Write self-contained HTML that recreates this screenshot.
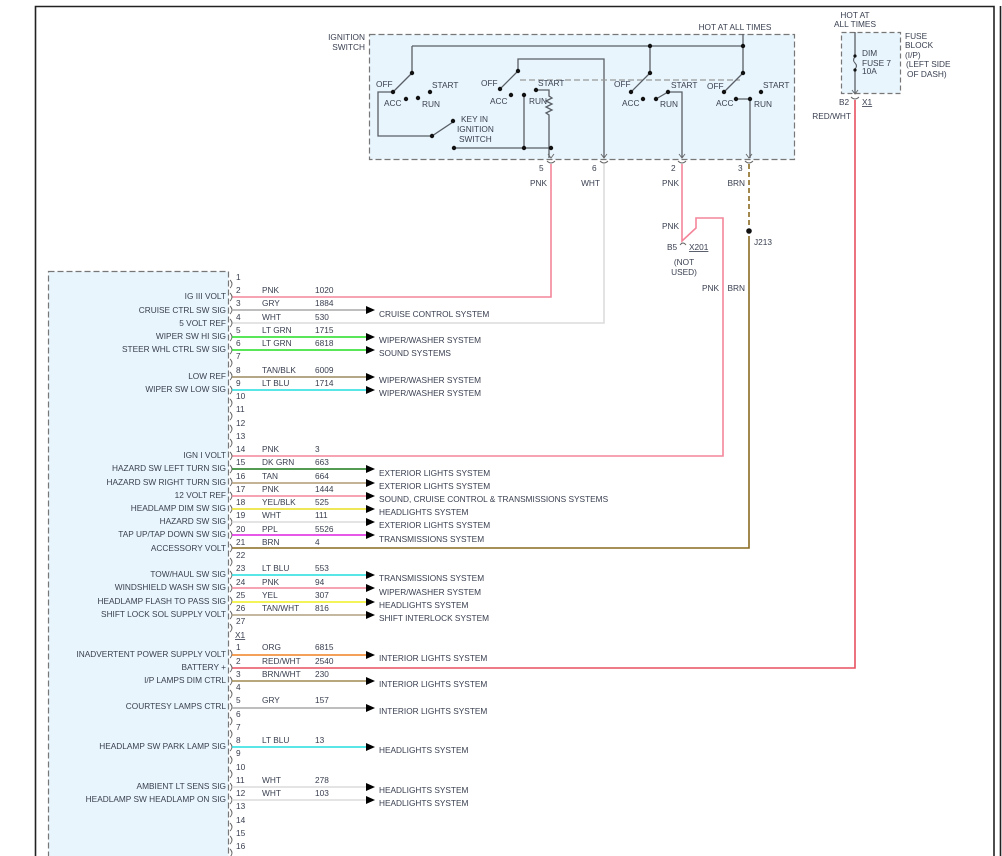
<!DOCTYPE html>
<html><head><meta charset="utf-8"><style>
html,body{margin:0;padding:0;background:#fff;}
svg{display:block;}
text{font-family:"Liberation Sans",sans-serif;font-size:8.3px;fill:#3a4050;}
.r{text-anchor:end;}
.m{text-anchor:middle;}
.sw{stroke:#5a5f66;stroke-width:1.3;fill:none;}
.dot{fill:#111;}
.br{stroke:#666;stroke-width:0.9;fill:none;}
</style></head><body>
<svg width="1002" height="856" viewBox="0 0 1002 856" xmlns="http://www.w3.org/2000/svg">
<!-- frame -->
<path d="M35.5,856 V6.5 H994 V856" stroke="#222" stroke-width="1.6" fill="none"/>
<line x1="1000.5" y1="6" x2="1000.5" y2="856" stroke="#222" stroke-width="1.6"/>

<!-- ignition switch box -->
<rect x="369.5" y="34.5" width="425" height="125" fill="#e8f5fd" stroke="#777" stroke-width="1.2" stroke-dasharray="6,3"/>
<text class="r" x="365" y="40">IGNITION</text>
<text class="r" x="365" y="50">SWITCH</text>
<text class="m" x="735" y="30">HOT AT ALL TIMES</text>

<!-- internal wiring -->
<path class="sw" d="M743,34 V73 M412,46 H743 M650,46 V73 M412,46 V73"/>
<path class="sw" d="M412,73 L393,92 M393,92 H378 V136 H432 L453,122"/>
<path class="sw" d="M454,148 H551 M524,95 V148"/>
<path class="sw" d="M518,71 V59 H604 V158 M518,71 L500,89"/>
<path class="sw" d="M536,90 H549 V96 l3,2 l-6,3 l6,3 l-6,3 l6,3 l-6,3 l3,2 V158"/>
<path d="M520,80 H740" stroke="#999" stroke-width="1.2" stroke-dasharray="6,3" fill="none"/>
<path class="sw" d="M650,73 L631,92 M656,99 L668,92 H682 V158"/>
<path class="sw" d="M743,73 L724,92 M736,99 H750 V158"/>
<g class="dot">
<circle cx="743" cy="46" r="2.2"/><circle cx="650" cy="46" r="2.2"/>
<circle cx="412" cy="73" r="2.2"/><circle cx="393" cy="92" r="2.2"/>
<circle cx="406" cy="99" r="2.2"/><circle cx="418" cy="98" r="2.2"/><circle cx="430" cy="92" r="2.2"/>
<circle cx="432" cy="136" r="2.2"/><circle cx="453" cy="121" r="2.2"/>
<circle cx="454" cy="148" r="2.2"/><circle cx="524" cy="148" r="2.2"/><circle cx="551" cy="148" r="2.2"/>
<circle cx="518" cy="71" r="2.2"/><circle cx="500" cy="89" r="2.2"/><circle cx="511" cy="95" r="2.2"/>
<circle cx="524" cy="95" r="2.2"/><circle cx="536" cy="90" r="2.2"/>
<circle cx="650" cy="73" r="2.2"/><circle cx="631" cy="92" r="2.2"/><circle cx="643" cy="99" r="2.2"/>
<circle cx="656" cy="99" r="2.2"/><circle cx="668" cy="92" r="2.2"/>
<circle cx="743" cy="73" r="2.2"/><circle cx="724" cy="92" r="2.2"/><circle cx="736" cy="99" r="2.2"/>
<circle cx="750" cy="99" r="2.2"/><circle cx="761" cy="92" r="2.2"/>
</g>
<text x="376" y="87">OFF</text><text x="432" y="88">START</text><text x="384" y="106">ACC</text><text x="422" y="107">RUN</text>
<text x="461" y="122">KEY IN</text><text x="457" y="132">IGNITION</text><text x="459" y="142">SWITCH</text>
<text x="481" y="86">OFF</text><text x="538" y="86">START</text><text x="490" y="104">ACC</text><text x="529" y="104">RUN</text>
<text x="614" y="87">OFF</text><text x="671" y="88">START</text><text x="622" y="106">ACC</text><text x="660" y="107">RUN</text>
<text x="707" y="89">OFF</text><text x="763" y="88">START</text><text x="716" y="106">ACC</text><text x="754" y="107">RUN</text>

<!-- pin arrows/cups -->
<g class="br">
<path d="M548,154 l3,4 l3,-4 M547,161 q4,4 8,0"/>
<path d="M601,154 l3,4 l3,-4 M600,161 q4,4 8,0"/>
<path d="M679,154 l3,4 l3,-4 M678,161 q4,4 8,0"/>
<path d="M746,154 l3,4 l3,-4 M745,161 q4,4 8,0"/>
</g>
<text x="539" y="171">5</text><text x="592" y="171">6</text><text x="671" y="171">2</text><text x="738" y="171">3</text>
<text class="r" x="547" y="186">PNK</text><text class="r" x="600" y="186">WHT</text>
<text class="r" x="679" y="186">PNK</text><text class="r" x="745" y="186">BRN</text>

<!-- vertical feed wires -->
<path d="M551,164 V297 H232" stroke="#f4859a" stroke-width="1.6" fill="none"/>
<path d="M604,164 V323 H232" stroke="#dcdcdc" stroke-width="1.6" fill="none"/>
<path d="M682,164 V241 L696,228 V218 H723 V456 H232" stroke="#f4859a" stroke-width="1.6" fill="none"/>
<path d="M749,164 V228" stroke="#8a6a20" stroke-width="1.6" stroke-dasharray="5,3" fill="none"/>
<path d="M749,236 V548 H232" stroke="#8a6a20" stroke-width="1.6" fill="none"/>
<circle cx="749" cy="231" r="2.8" fill="#111"/>
<text x="754" y="245">J213</text>
<text class="r" x="679" y="229">PNK</text>
<text x="667" y="250">B5</text>
<path d="M680,245 q3,-4 6,0" class="br"/>
<text x="689" y="250" text-decoration="underline">X201</text>
<text class="m" x="684" y="265">(NOT</text><text class="m" x="684" y="275">USED)</text>
<text class="r" x="719" y="291">PNK</text><text class="r" x="745" y="291">BRN</text>

<!-- fuse block -->
<rect x="841.5" y="32.5" width="59" height="61" fill="#e8f5fd" stroke="#777" stroke-width="1.2" stroke-dasharray="5,3"/>
<text class="m" x="855" y="18">HOT AT</text><text class="m" x="855" y="27">ALL TIMES</text>
<path class="sw" d="M855,32 V55 M855,70 V94"/>
<path d="M855,57 q-3,3 0,6 q3,3 0,6" stroke="#5a5f66" stroke-width="1.1" fill="none"/>
<circle cx="855" cy="56" r="1.6" class="dot"/><circle cx="855" cy="70" r="1.6" class="dot"/>
<path class="br" d="M852,90 l3,4 l3,-4 M851,97 q4,4 8,0"/>
<text x="862" y="56">DIM</text><text x="862" y="66">FUSE 7</text><text x="862" y="74">10A</text>
<text x="905" y="39">FUSE</text><text x="905" y="48">BLOCK</text><text x="905" y="58">(I/P)</text>
<text x="906" y="67">(LEFT SIDE</text><text x="907" y="77">OF DASH)</text>
<text x="839" y="105">B2</text><text x="862" y="105" text-decoration="underline">X1</text>
<text class="r" x="851" y="119">RED/WHT</text>
<path d="M855,100 V668 H232" stroke="#e85060" stroke-width="1.6" fill="none"/>

<!-- module box -->
<rect x="48.5" y="271.5" width="180" height="590" fill="#e8f5fd" stroke="#777" stroke-width="1.2" stroke-dasharray="6,3"/>

<!-- pin brackets -->
<g class="br">
<path d="M230,280 q4,4 0,8"/><path d="M230,293 q4,4 0,8"/><path d="M230,306 q4,4 0,8"/><path d="M230,319 q4,4 0,8"/>
<path d="M230,333 q4,4 0,8"/><path d="M230,346 q4,4 0,8"/><path d="M230,359 q4,4 0,8"/><path d="M230,372 q4,4 0,8"/>
<path d="M230,386 q4,4 0,8"/><path d="M230,399 q4,4 0,8"/><path d="M230,412 q4,4 0,8"/><path d="M230,425 q4,4 0,8"/>
<path d="M230,439 q4,4 0,8"/><path d="M230,452 q4,4 0,8"/><path d="M230,465 q4,4 0,8"/><path d="M230,478 q4,4 0,8"/>
<path d="M230,492 q4,4 0,8"/><path d="M230,505 q4,4 0,8"/><path d="M230,518 q4,4 0,8"/><path d="M230,531 q4,4 0,8"/>
<path d="M230,544 q4,4 0,8"/><path d="M230,558 q4,4 0,8"/><path d="M230,571 q4,4 0,8"/><path d="M230,584 q4,4 0,8"/>
<path d="M230,597 q4,4 0,8"/><path d="M230,611 q4,4 0,8"/><path d="M230,624 q4,4 0,8"/>
<path d="M230,650 q4,4 0,8"/><path d="M230,664 q4,4 0,8"/><path d="M230,677 q4,4 0,8"/><path d="M230,690 q4,4 0,8"/>
<path d="M230,703 q4,4 0,8"/><path d="M230,717 q4,4 0,8"/><path d="M230,730 q4,4 0,8"/><path d="M230,743 q4,4 0,8"/>
<path d="M230,756 q4,4 0,8"/><path d="M230,770 q4,4 0,8"/><path d="M230,783 q4,4 0,8"/><path d="M230,796 q4,4 0,8"/>
<path d="M230,809 q4,4 0,8"/><path d="M230,823 q4,4 0,8"/><path d="M230,836 q4,4 0,8"/><path d="M230,849 q4,4 0,8"/>
</g>

<!-- pin numbers -->
<g>
<text x="236" y="280">1</text><text x="236" y="293">2</text><text x="236" y="306">3</text><text x="236" y="320">4</text>
<text x="236" y="333">5</text><text x="236" y="346">6</text><text x="236" y="359">7</text><text x="236" y="373">8</text>
<text x="236" y="386">9</text><text x="236" y="399">10</text><text x="236" y="412">11</text><text x="236" y="426">12</text>
<text x="236" y="439">13</text><text x="236" y="452">14</text><text x="236" y="465">15</text><text x="236" y="479">16</text>
<text x="236" y="492">17</text><text x="236" y="505">18</text><text x="236" y="518">19</text><text x="236" y="532">20</text>
<text x="236" y="545">21</text><text x="236" y="558">22</text><text x="236" y="571">23</text><text x="236" y="585">24</text>
<text x="236" y="598">25</text><text x="236" y="611">26</text><text x="236" y="624">27</text>
<text x="235" y="638" text-decoration="underline">X1</text>
<text x="236" y="650">1</text><text x="236" y="664">2</text><text x="236" y="677">3</text><text x="236" y="690">4</text>
<text x="236" y="703">5</text><text x="236" y="717">6</text><text x="236" y="730">7</text><text x="236" y="743">8</text>
<text x="236" y="756">9</text><text x="236" y="770">10</text><text x="236" y="783">11</text><text x="236" y="796">12</text>
<text x="236" y="809">13</text><text x="236" y="823">14</text><text x="236" y="836">15</text><text x="236" y="849">16</text>
</g>

<!-- wire colour / circuit labels -->
<g>
<text x="262" y="293">PNK</text><text x="315" y="293">1020</text>
<text x="262" y="306">GRY</text><text x="315" y="306">1884</text>
<text x="262" y="320">WHT</text><text x="315" y="320">530</text>
<text x="262" y="333">LT GRN</text><text x="315" y="333">1715</text>
<text x="262" y="346">LT GRN</text><text x="315" y="346">6818</text>
<text x="262" y="373">TAN/BLK</text><text x="315" y="373">6009</text>
<text x="262" y="386">LT BLU</text><text x="315" y="386">1714</text>
<text x="262" y="452">PNK</text><text x="315" y="452">3</text>
<text x="262" y="465">DK GRN</text><text x="315" y="465">663</text>
<text x="262" y="479">TAN</text><text x="315" y="479">664</text>
<text x="262" y="492">PNK</text><text x="315" y="492">1444</text>
<text x="262" y="505">YEL/BLK</text><text x="315" y="505">525</text>
<text x="262" y="518">WHT</text><text x="315" y="518">111</text>
<text x="262" y="532">PPL</text><text x="315" y="532">5526</text>
<text x="262" y="545">BRN</text><text x="315" y="545">4</text>
<text x="262" y="571">LT BLU</text><text x="315" y="571">553</text>
<text x="262" y="585">PNK</text><text x="315" y="585">94</text>
<text x="262" y="598">YEL</text><text x="315" y="598">307</text>
<text x="262" y="611">TAN/WHT</text><text x="315" y="611">816</text>
<text x="262" y="650">ORG</text><text x="315" y="650">6815</text>
<text x="262" y="664">RED/WHT</text><text x="315" y="664">2540</text>
<text x="262" y="677">BRN/WHT</text><text x="315" y="677">230</text>
<text x="262" y="703">GRY</text><text x="315" y="703">157</text>
<text x="262" y="743">LT BLU</text><text x="315" y="743">13</text>
<text x="262" y="783">WHT</text><text x="315" y="783">278</text>
<text x="262" y="796">WHT</text><text x="315" y="796">103</text>
</g>

<!-- left signal labels -->
<g>
<text class="r" x="226" y="299">IG III VOLT</text>
<text class="r" x="226" y="313">CRUISE CTRL SW SIG</text>
<text class="r" x="226" y="326">5 VOLT REF</text>
<text class="r" x="226" y="339">WIPER SW HI SIG</text>
<text class="r" x="226" y="352">STEER WHL CTRL SW SIG</text>
<text class="r" x="226" y="379">LOW REF</text>
<text class="r" x="226" y="392">WIPER SW LOW SIG</text>
<text class="r" x="226" y="458">IGN I VOLT</text>
<text class="r" x="226" y="471">HAZARD SW LEFT TURN SIG</text>
<text class="r" x="226" y="485">HAZARD SW RIGHT TURN SIG</text>
<text class="r" x="226" y="498">12 VOLT REF</text>
<text class="r" x="226" y="511">HEADLAMP DIM SW SIG</text>
<text class="r" x="226" y="524">HAZARD SW SIG</text>
<text class="r" x="226" y="537">TAP UP/TAP DOWN SW SIG</text>
<text class="r" x="226" y="551">ACCESSORY VOLT</text>
<text class="r" x="226" y="577">TOW/HAUL SW SIG</text>
<text class="r" x="226" y="590">WINDSHIELD WASH SW SIG</text>
<text class="r" x="226" y="604">HEADLAMP FLASH TO PASS SIG</text>
<text class="r" x="226" y="617">SHIFT LOCK SOL SUPPLY VOLT</text>
<text class="r" x="226" y="657">INADVERTENT POWER SUPPLY VOLT</text>
<text class="r" x="226" y="670">BATTERY +</text>
<text class="r" x="226" y="683">I/P LAMPS DIM CTRL</text>
<text class="r" x="226" y="709">COURTESY LAMPS CTRL</text>
<text class="r" x="226" y="749">HEADLAMP SW PARK LAMP SIG</text>
<text class="r" x="226" y="789">AMBIENT LT SENS SIG</text>
<text class="r" x="226" y="802">HEADLAMP SW HEADLAMP ON SIG</text>
</g>

<!-- arrowed wires -->
<g stroke-width="1.6" fill="none">
<line x1="232" y1="310" x2="367" y2="310" stroke="#a9a9a9"/>
<line x1="232" y1="337" x2="367" y2="337" stroke="#22dd22"/>
<line x1="232" y1="350" x2="367" y2="350" stroke="#22dd22"/>
<line x1="232" y1="377" x2="367" y2="377" stroke="#9a8a60"/>
<line x1="232" y1="390" x2="367" y2="390" stroke="#22dddd"/>
<line x1="232" y1="469" x2="367" y2="469" stroke="#1a7a1a"/>
<line x1="232" y1="483" x2="367" y2="483" stroke="#b09a70"/>
<line x1="232" y1="496" x2="367" y2="496" stroke="#f4859a"/>
<line x1="232" y1="509" x2="367" y2="509" stroke="#e8e020"/>
<line x1="232" y1="522" x2="367" y2="522" stroke="#dcdcdc"/>
<line x1="232" y1="535" x2="367" y2="535" stroke="#e020e0"/>
<line x1="232" y1="575" x2="367" y2="575" stroke="#22dddd"/>
<line x1="232" y1="588" x2="367" y2="588" stroke="#f4859a"/>
<line x1="232" y1="602" x2="367" y2="602" stroke="#f0f020"/>
<line x1="232" y1="615" x2="367" y2="615" stroke="#b0a080"/>
<line x1="232" y1="655" x2="367" y2="655" stroke="#f08020"/>
<line x1="232" y1="681" x2="367" y2="681" stroke="#a08850"/>
<line x1="232" y1="708" x2="367" y2="708" stroke="#a9a9a9"/>
<line x1="232" y1="747" x2="367" y2="747" stroke="#22dddd"/>
<line x1="232" y1="787" x2="367" y2="787" stroke="#dcdcdc"/>
<line x1="232" y1="800" x2="367" y2="800" stroke="#dcdcdc"/>
</g>
<g fill="#000">
<path d="M366,306 l9,4 l-9,4z"/><path d="M366,333 l9,4 l-9,4z"/><path d="M366,346 l9,4 l-9,4z"/>
<path d="M366,373 l9,4 l-9,4z"/><path d="M366,386 l9,4 l-9,4z"/><path d="M366,465 l9,4 l-9,4z"/>
<path d="M366,479 l9,4 l-9,4z"/><path d="M366,492 l9,4 l-9,4z"/><path d="M366,505 l9,4 l-9,4z"/>
<path d="M366,518 l9,4 l-9,4z"/><path d="M366,531 l9,4 l-9,4z"/><path d="M366,571 l9,4 l-9,4z"/>
<path d="M366,584 l9,4 l-9,4z"/><path d="M366,598 l9,4 l-9,4z"/><path d="M366,611 l9,4 l-9,4z"/>
<path d="M366,651 l9,4 l-9,4z"/><path d="M366,677 l9,4 l-9,4z"/><path d="M366,704 l9,4 l-9,4z"/>
<path d="M366,743 l9,4 l-9,4z"/><path d="M366,783 l9,4 l-9,4z"/><path d="M366,796 l9,4 l-9,4z"/>
</g>
<g>
<text x="379" y="317">CRUISE CONTROL SYSTEM</text>
<text x="379" y="343">WIPER/WASHER SYSTEM</text>
<text x="379" y="356">SOUND SYSTEMS</text>
<text x="379" y="383">WIPER/WASHER SYSTEM</text>
<text x="379" y="396">WIPER/WASHER SYSTEM</text>
<text x="379" y="476">EXTERIOR LIGHTS SYSTEM</text>
<text x="379" y="489">EXTERIOR LIGHTS SYSTEM</text>
<text x="379" y="502">SOUND, CRUISE CONTROL &amp; TRANSMISSIONS SYSTEMS</text>
<text x="379" y="515">HEADLIGHTS SYSTEM</text>
<text x="379" y="528">EXTERIOR LIGHTS SYSTEM</text>
<text x="379" y="542">TRANSMISSIONS SYSTEM</text>
<text x="379" y="581">TRANSMISSIONS SYSTEM</text>
<text x="379" y="595">WIPER/WASHER SYSTEM</text>
<text x="379" y="608">HEADLIGHTS SYSTEM</text>
<text x="379" y="621">SHIFT INTERLOCK SYSTEM</text>
<text x="379" y="661">INTERIOR LIGHTS SYSTEM</text>
<text x="379" y="687">INTERIOR LIGHTS SYSTEM</text>
<text x="379" y="714">INTERIOR LIGHTS SYSTEM</text>
<text x="379" y="753">HEADLIGHTS SYSTEM</text>
<text x="379" y="793">HEADLIGHTS SYSTEM</text>
<text x="379" y="806">HEADLIGHTS SYSTEM</text>
</g>
</svg>
</body></html>
